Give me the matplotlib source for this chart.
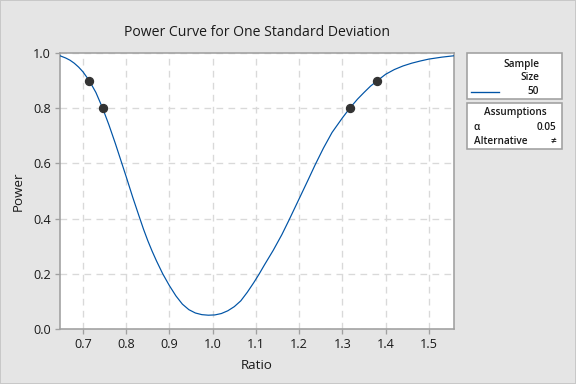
import matplotlib
matplotlib.use('Agg')
import matplotlib.pyplot as plt
from matplotlib.patches import Rectangle

plt.rcParams['font.family'] = ['Open Sans', 'DejaVu Sans']

# values
ratio = [0.647, 0.66, 0.67, 0.68, 0.69, 0.70, 0.7146, 0.73, 0.7456, 0.76, 0.775,
         0.79, 0.80, 0.815, 0.83, 0.84, 0.85, 0.86, 0.87, 0.8845, 0.90, 0.915,
         0.93, 0.945, 0.96, 0.975, 0.99, 1.005, 1.02, 1.035, 1.05, 1.065, 1.08,
         1.095, 1.107, 1.12, 1.14, 1.16, 1.176, 1.20, 1.22, 1.237, 1.256, 1.276,
         1.30, 1.317, 1.335, 1.35, 1.365, 1.381, 1.40, 1.42, 1.44, 1.46, 1.48,
         1.50, 1.53, 1.558]
power = [0.990, 0.982, 0.974, 0.963, 0.949, 0.932, 0.900, 0.857, 0.800, 0.740, 0.672,
         0.600, 0.552, 0.478, 0.408, 0.362, 0.320, 0.282, 0.247, 0.200, 0.157, 0.120,
         0.090, 0.070, 0.058, 0.052, 0.050, 0.051, 0.056, 0.066, 0.081, 0.102, 0.133,
         0.168, 0.198, 0.233, 0.285, 0.342, 0.393, 0.472, 0.538, 0.595, 0.655, 0.712,
         0.765, 0.800, 0.833, 0.857, 0.880, 0.900, 0.923, 0.940, 0.953, 0.963, 0.971,
         0.978, 0.985, 0.990]
dot_ratio = [0.7146, 0.7456, 1.317, 1.381]
dot_power = [0.90, 0.80, 0.80, 0.90]
xticks = [0.7, 0.8, 0.9, 1.0, 1.1, 1.2, 1.3, 1.4, 1.5]
yticks = [0.0, 0.2, 0.4, 0.6, 0.8, 1.0]

bg = '#e5e5e5'
edge = '#a0a0a0'
blue = '#0054a6'
txt = '#1a1a1a'

fig = plt.figure(figsize=(6, 4), dpi=96, facecolor=bg)
ax = fig.add_axes([60/576, 1-329/384, 394/576, 276/384])
ax.set_facecolor('white')

ax.plot(ratio, power, color=blue, linewidth=0.9, zorder=3)
ax.scatter(dot_ratio, dot_power, s=36, color='#333333', zorder=4)

ax.set_xlim(0.647, 1.558)
ax.set_ylim(0, 1.0)
ax.set_xticks(xticks)
ax.set_xticklabels([f'{t:.1f}' for t in xticks])
ax.set_yticks(yticks)
ax.set_yticklabels([f'{t:.1f}' for t in yticks])
ax.grid(True, color='#d9d9d9', linestyle=(0, (5, 4)), linewidth=1.0, zorder=0)
for s in ax.spines.values():
    s.set_color(edge)
    s.set_linewidth(1.2)
ax.tick_params(axis='both', colors=edge, labelcolor=txt, labelsize=9.5,
               length=4, width=1.0, direction='out', pad=3)

ax.set_title('Power Curve for One Standard Deviation', fontsize=10.5, color=txt, pad=13)
ax.set_xlabel('Ratio', fontsize=10, color=txt, labelpad=6)
ax.set_ylabel('Power', fontsize=10, color=txt, labelpad=6)

# legend boxes on the right
def px(x, y):
    return x / 576, 1 - y / 384

for y0, y1 in [(53, 99), (103, 149)]:
    x0, yb = px(467, y1)
    fig.patches.append(Rectangle((x0, yb), 95/576, (y1-y0)/384, transform=fig.transFigure,
                                 facecolor='white', edgecolor=edge, linewidth=1.2))

kw = dict(fontsize=7.5, color=txt, fontweight='semibold', va='center')
fig.text(*px(539, 64), 'Sample', ha='right', **kw)
fig.text(*px(539, 77), 'Size', ha='right', **kw)
fig.text(*px(539, 91), '50', ha='right', **kw)
fig.add_artist(plt.Line2D([471/576, 499/576], [1-91.5/384, 1-91.5/384],
                          transform=fig.transFigure, color=blue, linewidth=1.0))
fig.text(*px(515, 113), 'Assumptions', ha='center', **kw)
fig.text(*px(474, 127), 'α', ha='left', **kw)
fig.text(*px(556, 127), '0.05', ha='right', **kw)
fig.text(*px(474, 141), 'Alternative', ha='left', **kw)
fig.text(*px(556, 141), '≠', ha='right', **kw)

fig.patches.append(Rectangle((0, 0), 1, 1, transform=fig.transFigure, fill=False,
                             edgecolor='#c8c8c8', linewidth=1.5))

fig.savefig('out.png', dpi=96, facecolor=bg)
